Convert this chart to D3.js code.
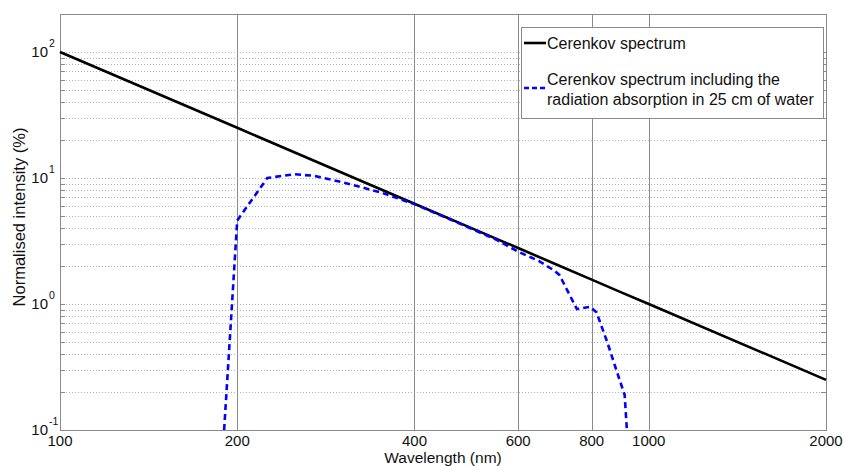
<!DOCTYPE html>
<html><head><meta charset="utf-8">
<script src="https://cdn.jsdelivr.net/npm/d3@7"></script>
<style>
body{margin:0;background:#fff;}
svg{display:block;font-family:"Liberation Sans",Arial,sans-serif;}
</style></head>
<body><svg id="c" width="844" height="466"></svg>
<script>
// ---- data ----
const cerenkovWl  = [100, 200, 300, 400, 500, 600, 700, 800, 900, 1000, 2000];
const cerenkovVal = [100, 25, 11.1, 6.25, 4.0, 2.78, 2.04, 1.56, 1.23, 1.0, 0.25];
const waterWl  = [190, 200, 225, 250, 270, 300, 350, 400, 450, 500, 550, 600, 650, 690, 705, 755, 795, 815, 850, 885, 910, 918];
const waterVal = [0.1, 4.6, 10, 10.7, 10.4, 9.3, 7.7, 6.2, 4.9, 3.95, 3.25, 2.6, 2.2, 1.85, 1.7, 0.91, 0.95, 0.86, 0.5, 0.28, 0.19, 0.1];
const xTicks = [100, 200, 400, 600, 800, 1000, 2000];
const yTickExp = [-1, 0, 1, 2];
const seriesNames = ["Cerenkov spectrum", ["Cerenkov spectrum including the", "radiation absorption in 25 cm of water"]];

// ---- layout ----
const svg = d3.select("#c");
const L = 60, R = 826, T = 14, B = 430;
const x = d3.scaleLog().domain([100, 2000]).range([L, R]);
const y = d3.scaleLog().domain([0.1, 200]).range([B, T]);
const gridCol = "#8a8a8a";

// minor horizontal dotted grid
const minorY = [];
for (let e = -1; e <= 2; e++) for (let m = 1; m <= 9; m++) { const v = m * Math.pow(10, e); if (v >= 0.1 && v <= 200) minorY.push(v); }
svg.append("g").selectAll("line").data(minorY).join("line")
  .attr("x1", L).attr("x2", R).attr("y1", d => Math.round(y(d)) + 0.5).attr("y2", d => Math.round(y(d)) + 0.5)
  .attr("stroke", "#b0b0b0").attr("stroke-width", 1).attr("stroke-dasharray", "1,2");

// left/right minor ticks
[L, R].forEach((xx, i) => {
  svg.append("g").selectAll("line").data(minorY).join("line")
    .attr("x1", xx).attr("x2", i === 0 ? xx + 5 : xx - 5)
    .attr("y1", d => Math.round(y(d)) + 0.5).attr("y2", d => Math.round(y(d)) + 0.5)
    .attr("stroke", gridCol).attr("stroke-width", 1);
});

// vertical solid grid
svg.append("g").selectAll("line").data(xTicks.filter(d => d > 100 && d < 2000)).join("line")
  .attr("x1", d => Math.round(x(d)) + 0.5).attr("x2", d => Math.round(x(d)) + 0.5)
  .attr("y1", T).attr("y2", B).attr("stroke", gridCol).attr("stroke-width", 1);

// box
svg.append("rect").attr("x", L + 0.5).attr("y", T + 0.5).attr("width", R - L).attr("height", B - T)
  .attr("fill", "none").attr("stroke", gridCol).attr("stroke-width", 1);

// lines
const line = d3.line().x(d => x(d[0])).y(d => y(d[1]));
svg.append("path").datum(cerenkovWl.map((w, i) => [w, cerenkovVal[i]]))
  .attr("d", line).attr("fill", "none").attr("stroke", "#000").attr("stroke-width", 2.6);
svg.append("path").datum(waterWl.map((w, i) => [w, waterVal[i]]))
  .attr("d", line).attr("fill", "none").attr("stroke", "#0000ff").attr("stroke-width", 2.6)
  .attr("stroke-dasharray", "6,4");

// x tick labels
svg.append("g").selectAll("text").data(xTicks).join("text")
  .attr("x", d => x(d)).attr("y", 445.5).attr("text-anchor", "middle")
  .attr("font-size", 15).attr("fill", "#111").text(d => d);

// y tick labels
const yl = svg.append("g").selectAll("g").data(yTickExp).join("g");
yl.append("text").attr("x", 48).attr("y", d => y(Math.pow(10, d)) + 5)
  .attr("text-anchor", "end").attr("font-size", 15).attr("fill", "#111").text("10");
yl.append("text").attr("x", 49).attr("y", d => y(Math.pow(10, d)) - 5)
  .attr("text-anchor", "start").attr("font-size", 10.5).attr("fill", "#111").text(d => d);

// axis titles
svg.append("text").attr("x", (L + R) / 2).attr("y", 462.5).attr("text-anchor", "middle")
  .attr("font-size", 15.5).attr("fill", "#111").text("Wavelength (nm)");
svg.append("text").attr("transform", `translate(25,217) rotate(-90)`)
  .attr("text-anchor", "middle").attr("font-size", 16.5).attr("fill", "#111").text("Normalised intensity (%)");

// legend
const lg = svg.append("g");
lg.append("rect").attr("x", 521.5).attr("y", 27.5).attr("width", 302).attr("height", 91)
  .attr("fill", "#fff").attr("stroke", gridCol).attr("stroke-width", 1);
lg.append("line").attr("x1", 524).attr("x2", 546).attr("y1", 43).attr("y2", 43)
  .attr("stroke", "#000").attr("stroke-width", 2.6);
lg.append("text").attr("x", 547).attr("y", 49).attr("font-size", 16).attr("fill", "#111").text(seriesNames[0]);
lg.append("line").attr("x1", 524).attr("x2", 546).attr("y1", 88).attr("y2", 88)
  .attr("stroke", "#0000ff").attr("stroke-width", 2.6).attr("stroke-dasharray", "5,3");
lg.append("text").attr("x", 547).attr("y", 85).attr("font-size", 16).attr("fill", "#111").text(seriesNames[1][0]);
lg.append("text").attr("x", 547).attr("y", 105).attr("font-size", 16).attr("fill", "#111").text(seriesNames[1][1]);
</script></body></html>
